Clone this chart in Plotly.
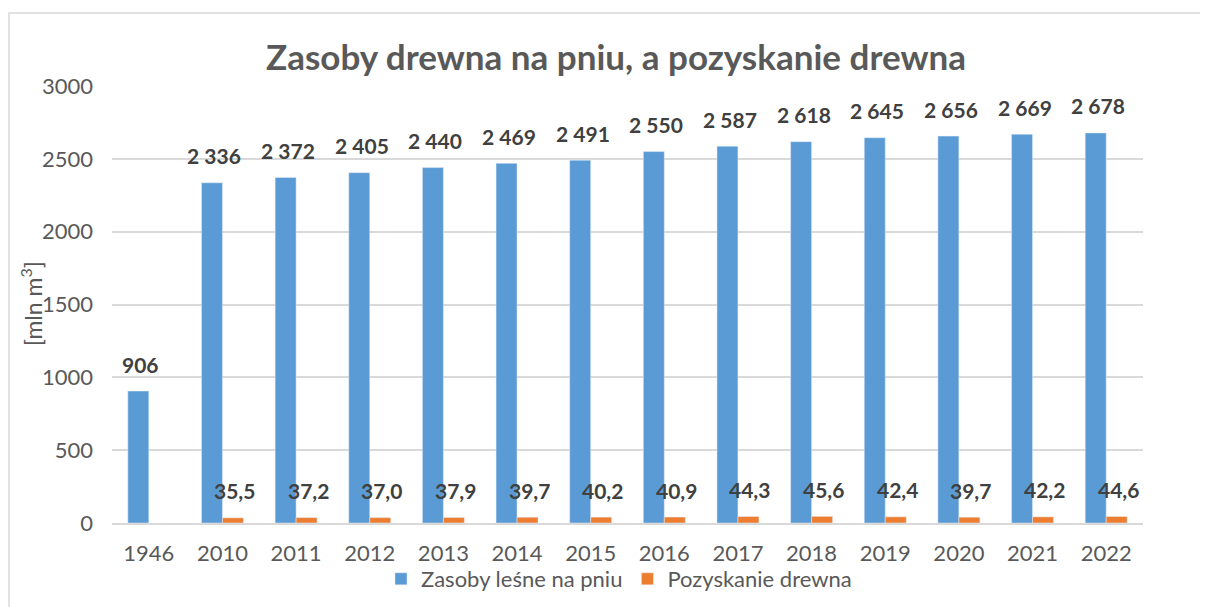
import plotly.graph_objects as go

years = ["1946", "2010", "2011", "2012", "2013", "2014", "2015", "2016", "2017", "2018", "2019", "2020", "2021", "2022"]
zasoby = [906, 2336, 2372, 2405, 2440, 2469, 2491, 2550, 2587, 2618, 2645, 2656, 2669, 2678]
pozyskanie = [None, 35.5, 37.2, 37.0, 37.9, 39.7, 40.2, 40.9, 44.3, 45.6, 42.4, 39.7, 42.2, 44.6]

BLUE = "#5B9BD5"
ORANGE = "#ED7D31"
TXT = "#595959"
LBL = "#404040"
FONT = "Lato, 'Open Sans', sans-serif"

def fmt_int(v):
    return f"{v:,}".replace(",", " ")

def fmt_dec(v):
    return f"{v:.1f}".replace(".", ",")

# page body has an 8px margin: figure pixel = screen pixel - 8
OFF = 8
W, H = 1208 - OFF, 607 - OFF
L = 112 - OFF
R = W - (1143 - OFF)
T = 86 - OFF
B = H - (523 - OFF)
pw, ph = W - L - R, H - T - B

def px_x(p):  # screen px -> paper
    return (p - OFF - L) / pw

def px_y(p):
    return (H - B - (p - OFF)) / ph

fig = go.Figure()
fig.add_trace(go.Bar(x=years, y=zasoby, name="Zasoby leśne na pniu", marker_color=BLUE))
fig.add_trace(go.Bar(x=years, y=pozyskanie, name="Pozyskanie drewna", marker_color=ORANGE))

annotations = []
for i, v in enumerate(zasoby):
    annotations.append(dict(x=i, y=v, xref="x", yref="y", text=f"<b>{fmt_int(v)}</b>",
                            showarrow=False, xshift=-8, yshift=27,
                            font=dict(family=FONT, size=21, color=LBL)))
for i, v in enumerate(pozyskanie):
    if v is None:
        continue
    annotations.append(dict(x=i, y=v, xref="x", yref="y", text=f"<b>{fmt_dec(v)}</b>",
                            showarrow=False, xshift=12, yshift=27,
                            font=dict(family=FONT, size=21, color=LBL)))

annotations.append(dict(x=px_x(31), y=px_y(304), xref="paper", yref="paper", xanchor="center",
                        yanchor="middle", showarrow=False, textangle=-90,
                        text="[mln m<sup>3</sup>]", font=dict(family=FONT, size=23, color=TXT)))

fig.update_layout(
    width=W, height=H,
    margin=dict(l=L, r=R, t=T, b=B, autoexpand=False),
    paper_bgcolor="white", plot_bgcolor="white",
    barmode="group", bargap=0.43, bargroupgap=0.0,
    title=dict(text="<b>Zasoby drewna na pniu, a pozyskanie drewna</b>",
               x=(616 - OFF) / W, xanchor="center",
               y=1 - (58 - OFF) / H, yanchor="middle",
               font=dict(family=FONT, size=35, color=TXT)),
    font=dict(family=FONT, color=TXT),
    xaxis=dict(type="category", range=[-0.5, len(years) - 0.5], showgrid=False, showline=True,
               linecolor="#D9D9D9", linewidth=1.5, automargin=False, ticklabelstandoff=10,
               ticks="", tickfont=dict(size=22, color=TXT)),
    yaxis=dict(range=[0, 3000], dtick=500, showgrid=True, gridcolor="#D9D9D9", gridwidth=1.5,
               zeroline=False, showline=False, ticks="", tickfont=dict(size=22, color=TXT),
               automargin=False, ticklabelstandoff=18),
    legend=dict(orientation="h", x=px_x(619), xanchor="center", y=px_y(558), yanchor="top",
                font=dict(size=22, color=TXT), itemwidth=30, bgcolor="rgba(0,0,0,0)"),
    annotations=annotations,
    shapes=[dict(type="rect", xref="paper", yref="paper",
                 x0=px_x(9), x1=px_x(1240), y0=px_y(640), y1=px_y(13),
                 line=dict(color="#D9D9D9", width=1.5), fillcolor="rgba(0,0,0,0)", layer="below")],
)

fig.write_html("out.html")
